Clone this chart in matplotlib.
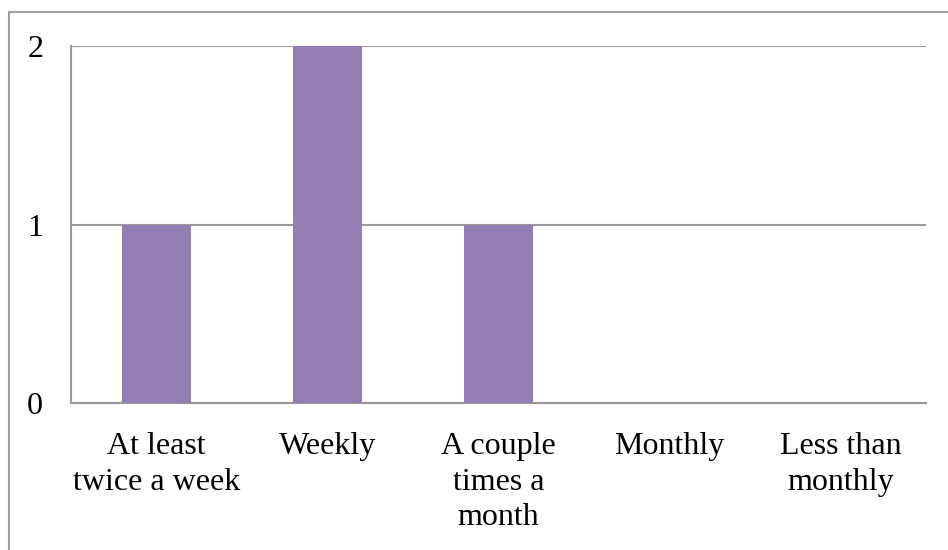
import matplotlib
matplotlib.use("Agg")
import matplotlib.pyplot as plt
from matplotlib.patches import Rectangle

categories = ["At least\ntwice a week", "Weekly", "A couple\ntimes a\nmonth", "Monthly", "Less than\nmonthly"]
counts = [1, 2, 1, 0, 0]
y_ticks = [0, 1, 2]

plt.rcParams['font.family'] = ['Liberation Serif', 'DejaVu Serif']

fig = plt.figure(figsize=(9.48, 5.5), dpi=100)
ax = fig.add_axes([71/948, 1 - 403/550, (926 - 71)/948, (403 - 46)/550])

x = range(len(categories))
ax.bar(x, counts, width=0.4, color='#937EB3', zorder=3)

ax.set_xlim(-0.5, len(categories) - 0.5)
ax.set_ylim(0, 2)
ax.set_yticks(y_ticks)
ax.set_yticklabels([str(v) for v in y_ticks], fontsize=23)
ax.set_xticks(list(x))
ax.set_xticklabels(categories, fontsize=23, linespacing=1.3, va='top')
ax.tick_params(axis='both', length=0)
ax.tick_params(axis='y', pad=20)
ax.tick_params(axis='x', pad=21)

ax.yaxis.grid(True, color='#9A9A9A', linewidth=1.5, zorder=0)
for side in ['top', 'right']:
    ax.spines[side].set_visible(False)
for side in ['left', 'bottom']:
    ax.spines[side].set_color('#9A9A9A')
    ax.spines[side].set_linewidth(1.5)

# outer chart border (partly off image like the reference)
fig.patches.append(Rectangle((9/948, -0.1), 1.2, 1.1 - 12/550, transform=fig.transFigure,
                             fill=False, edgecolor='#A0A0A0', linewidth=1.5))

fig.savefig("out.png", dpi=100)
